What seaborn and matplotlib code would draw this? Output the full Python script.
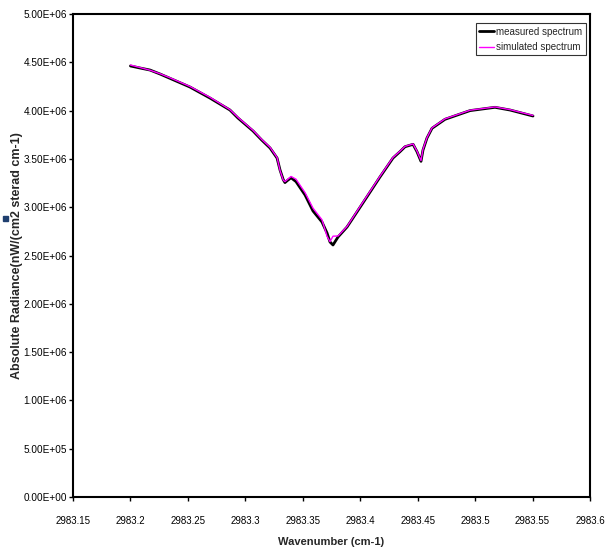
import matplotlib
matplotlib.use("Agg")
import matplotlib.pyplot as plt
import seaborn as sns
import pandas as pd
from matplotlib.patches import Rectangle

# Wavenumber samples (cm-1)
wavenumber = [2983.2000, 2983.2083, 2983.2170, 2983.2257, 2983.2344, 2983.2518,
              2983.2692, 2983.2866, 2983.2936, 2983.3067, 2983.3142, 2983.3215,
              2983.3276, 2983.3302, 2983.3330, 2983.3345, 2983.3370, 2983.3398,
              2983.3441, 2983.3520, 2983.3589, 2983.3667, 2983.3711, 2983.3737,
              2983.3763, 2983.3807, 2983.3885, 2983.4000, 2983.4172, 2983.4285,
              2983.4346, 2983.4390, 2983.4460, 2983.4494, 2983.4529, 2983.4546,
              2983.4581, 2983.4625, 2983.4738, 2983.4956, 2983.5173, 2983.5304,
              2983.5504]

# Measured radiance, nW/(cm2 sterad cm-1)
measured = [4.462e6, 4.441e6, 4.420e6, 4.379e6, 4.334e6, 4.244e6,
            4.130e6, 4.006e6, 3.923e6, 3.789e6, 3.696e6, 3.613e6,
            3.509e6, 3.385e6, 3.285e6, 3.255e6, 3.280e6, 3.305e6,
            3.265e6, 3.126e6, 2.961e6, 2.847e6, 2.733e6, 2.640e6,
            2.609e6, 2.692e6, 2.795e6, 3.002e6, 3.313e6, 3.509e6,
            3.575e6, 3.626e6, 3.651e6, 3.575e6, 3.475e6, 3.590e6,
            3.716e6, 3.817e6, 3.910e6, 4.000e6, 4.034e6, 4.006e6,
            3.944e6]

# Simulated radiance, nW/(cm2 sterad cm-1)
simulated = [4.472e6, 4.446e6, 4.418e6, 4.382e6, 4.340e6, 4.250e6,
             4.138e6, 4.010e6, 3.930e6, 3.795e6, 3.702e6, 3.620e6,
             3.515e6, 3.380e6, 3.280e6, 3.265e6, 3.290e6, 3.318e6,
             3.290e6, 3.150e6, 2.990e6, 2.870e6, 2.700e6, 2.643e6,
             2.700e6, 2.702e6, 2.800e6, 3.010e6, 3.320e6, 3.515e6,
             3.580e6, 3.630e6, 3.655e6, 3.580e6, 3.482e6, 3.598e6,
             3.720e6, 3.822e6, 3.915e6, 4.004e6, 4.038e6, 4.010e6,
             3.950e6]

x_ticks = [2983.15, 2983.2, 2983.25, 2983.3, 2983.35, 2983.4, 2983.45, 2983.5,
           2983.55, 2983.6]
x_tick_labels = ["2983.15", "2983.2", "2983.25", "2983.3", "2983.35", "2983.4",
                 "2983.45", "2983.5", "2983.55", "2983.6"]
y_ticks = [0, 5e5, 1e6, 1.5e6, 2e6, 2.5e6, 3e6, 3.5e6, 4e6, 4.5e6, 5e6]
y_tick_labels = ["0.00E+00", "5.00E+05", "1.00E+06", "1.50E+06", "2.00E+06",
                 "2.50E+06", "3.00E+06", "3.50E+06", "4.00E+06", "4.50E+06",
                 "5.00E+06"]

sns.set_style("white")
plt.rcParams["font.family"] = ["Liberation Sans", "DejaVu Sans"]

df = pd.DataFrame({"wavenumber": wavenumber, "measured": measured,
                   "simulated": simulated})

fig = plt.figure(figsize=(6.13, 5.5), dpi=100)
ax = fig.add_axes([73 / 613, 53 / 550, 517 / 613, 483 / 550])

sns.lineplot(data=df, x="wavenumber", y="measured", ax=ax, color="black",
             linewidth=2.0, sort=False, label="measured spectrum")
sns.lineplot(data=df, x="wavenumber", y="simulated", ax=ax, color="#ff00ff",
             linewidth=1.0, sort=False, label="simulated spectrum")

ax.set_xlim(2983.15, 2983.6)
ax.set_ylim(0, 5e6)
ax.set_xticks(x_ticks)
ax.set_xticklabels(x_tick_labels)
ax.set_yticks(y_ticks)
ax.set_yticklabels(y_tick_labels)
ax.tick_params(axis="both", direction="out", length=3, width=1, labelsize=7.2,
               pad=1.5, bottom=True, left=True, colors="black")
ax.tick_params(axis="x", labelsize=7, pad=11)
for s in ax.spines.values():
    s.set_color("black")
    s.set_linewidth(1.5)

ax.set_xlabel("Wavenumber (cm-1)", fontsize=8, fontweight="bold")
ax.xaxis.set_label_coords(0.5, -0.082)
ax.set_ylabel("Absolute Radiance(nW/(cm2 sterad cm-1)", fontsize=9,
              fontweight="bold")
ax.yaxis.set_label_coords(-0.096, 0.5)

leg = ax.legend(loc="upper right", fontsize=7, frameon=True, fancybox=False,
                edgecolor="black", handlelength=1.5, handletextpad=0.25,
                borderpad=0.35, borderaxespad=0.0, labelspacing=0.55,
                bbox_to_anchor=(0.992, 0.981))
leg.get_frame().set_linewidth(0.8)

# small marker square at the left edge
fig.patches.append(Rectangle((3 / 613, 1 - 221 / 550), 5 / 613, 5 / 550,
                             transform=fig.transFigure, color="#1f3f6f"))

fig.savefig("out.png", dpi=100, facecolor="white")
